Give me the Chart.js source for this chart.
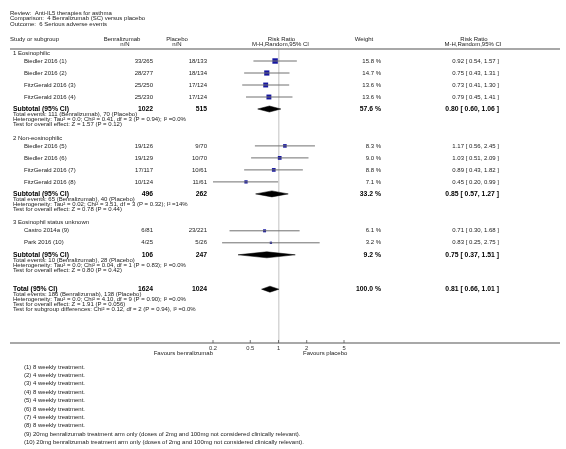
<!DOCTYPE html>
<html>
<head>
<meta charset="utf-8">
<script src="https://cdn.jsdelivr.net/npm/chart.js@4/dist/chart.umd.min.js"></script>
<style>
  html, body { margin: 0; padding: 0; background: #fff; }
  #forest { display: block; }
</style>
</head>
<body>
<canvas id="forest" width="566" height="449"></canvas>
<script>
// ---- data ----
const titleLines = [
  'Review:  Anti-IL5 therapies for asthma',
  'Comparison:  4 Benralizumab (SC) versus placebo',
  'Outcome:  6 Serious adverse events'
];
const groups = ['1 Eosinophilic', '2 Non-eosinophilic', '3 Eosinophil status unknown'];
const studies = [
  'Biedler 2016 (1)', 'Biedler 2016 (2)', 'FitzGerald 2016 (3)', 'FitzGerald 2016 (4)',
  'Biedler 2016 (5)', 'Biedler 2016 (6)', 'FitzGerald 2016 (7)', 'FitzGerald 2016 (8)',
  'Castro 2014a (9)', 'Park 2016 (10)'
];
const studyGroup = [0, 0, 0, 0, 1, 1, 1, 1, 2, 2];
const benraEvents = [33, 28, 25, 25, 19, 19, 17, 10, 6, 4];
const benraTotal = [265, 277, 250, 230, 126, 129, 117, 124, 81, 25];
const placeboEvents = [18, 18, 17, 17, 9, 10, 10, 11, 23, 5];
const placeboTotal = [133, 134, 124, 124, 70, 70, 61, 61, 221, 26];
const riskRatio = [0.92, 0.75, 0.73, 0.79, 1.17, 1.03, 0.89, 0.45, 0.71, 0.83];
const ciLow = [0.54, 0.43, 0.41, 0.45, 0.56, 0.51, 0.43, 0.20, 0.30, 0.25];
const ciHigh = [1.57, 1.31, 1.30, 1.41, 2.45, 2.09, 1.82, 0.99, 1.68, 2.75];
const weights = [15.8, 14.7, 13.6, 13.6, 8.3, 9.0, 8.8, 7.1, 6.1, 3.2];

const subRR = [0.80, 0.85, 0.75];
const subLow = [0.60, 0.57, 0.37];
const subHigh = [1.06, 1.27, 1.51];
const subWeight = [57.6, 33.2, 9.2];
const subBenraN = [1022, 496, 106];
const subPlaceboN = [515, 262, 247];
const subStats = [
  ['Total events: 111 (Benralizumab), 70 (Placebo)',
   'Heterogeneity: Tau\u00B2 = 0.0; Chi\u00B2 = 0.41, df = 3 (P = 0.94); I\u00B2 =0.0%',
   'Test for overall effect: Z = 1.57 (P = 0.12)'],
  ['Total events: 65 (Benralizumab), 40 (Placebo)',
   'Heterogeneity: Tau\u00B2 = 0.02; Chi\u00B2 = 3.51, df = 3 (P = 0.32); I\u00B2 =14%',
   'Test for overall effect: Z = 0.78 (P = 0.44)'],
  ['Total events: 10 (Benralizumab), 28 (Placebo)',
   'Heterogeneity: Tau\u00B2 = 0.0; Chi\u00B2 = 0.04, df = 1 (P = 0.83); I\u00B2 =0.0%',
   'Test for overall effect: Z = 0.80 (P = 0.42)']
];

const totalRR = 0.81, totalLow = 0.66, totalHigh = 1.01, totalWeight = 100.0;
const totalBenraN = 1624, totalPlaceboN = 1024;
const totalStats = [
  'Total events: 186 (Benralizumab), 138 (Placebo)',
  'Heterogeneity: Tau\u00B2 = 0.0; Chi\u00B2 = 4.10, df = 9 (P = 0.90); I\u00B2 =0.0%',
  'Test for overall effect: Z = 1.91 (P = 0.056)',
  'Test for subgroup differences: Chi\u00B2 = 0.12, df = 2 (P = 0.94), I\u00B2 =0.0%'
];

const xTicks = [0.2, 0.5, 1, 2, 5];
const favours = ['Favours benralizumab', 'Favours placebo'];
const footnotes = [
  '(1) 8 weekly treatment.',
  '(2) 4 weekly treatment.',
  '(3) 4 weekly treatment.',
  '(4) 8 weekly treatment.',
  '(5) 4 weekly treatment.',
  '(6) 8 weekly treatment.',
  '(7) 4 weekly treatment.',
  '(8) 8 weekly treatment.',
  '(9) 20mg benralizumab treatment arm only (doses of 2mg and 100mg not considered clinically relevant).',
  '(10) 20mg benralizumab treatment arm only (doses of 2mg and 100mg not considered clinically relevant).'
];

// ---- layout ----
const FONT = '"Liberation Sans", Arial, Helvetica, sans-serif';
const COL = { label: 10, group: 13, study: 24, benra: 153, placebo: 207, weight: 381, rr: 499 };
const SIZE = { title: 6, head: 6, body: 6, stat: 6, bold: 6.8, note: 6 };
const ROW_GAP = { first: 4, groupToStudy: 8, study: 12, studyToSub: 12, subToStat: 5.4, stat: 5, statToGroup: 13.5, statToTotal: 19 };
const DIAMOND_H = 3;

// rows in "line units" down the plot, top of plot = 0
const rows = [];
let cursor = ROW_GAP.first;
groups.forEach((name, g) => {
  rows.push({ kind: 'group', g, y: cursor });
  cursor += ROW_GAP.groupToStudy;
  const members = studies.map((s, i) => i).filter((i) => studyGroup[i] === g);
  members.forEach((i, k) => {
    if (k > 0) cursor += ROW_GAP.study;
    rows.push({ kind: 'study', i, y: cursor });
  });
  cursor += ROW_GAP.studyToSub;
  rows.push({ kind: 'sub', g, y: cursor });
  cursor += ROW_GAP.subToStat;
  subStats[g].forEach((line, k) => {
    if (k > 0) cursor += ROW_GAP.stat;
    rows.push({ kind: 'stat', text: line, y: cursor });
  });
  cursor += g < groups.length - 1 ? ROW_GAP.statToGroup : ROW_GAP.statToTotal;
});
rows.push({ kind: 'total', y: cursor });
cursor += ROW_GAP.subToStat;
totalStats.forEach((line, k) => {
  if (k > 0) cursor += ROW_GAP.stat;
  rows.push({ kind: 'stat', text: line, y: cursor });
});

// ---- datasets ----
const datasets = [];
const studyRows = rows.filter((r) => r.kind === 'study');

studyRows.forEach((r) => {
  datasets.push({
    type: 'scatter',
    showLine: true,
    data: [{ x: ciLow[r.i], y: r.y }, { x: ciHigh[r.i], y: r.y }],
    borderColor: '#707070',
    borderWidth: 1,
    pointRadius: 0
  });
});

datasets.push({
  type: 'scatter',
  data: studyRows.map((r) => ({ x: riskRatio[r.i], y: r.y })),
  pointStyle: 'rect',
  pointRadius: studyRows.map((r) => (1.5 + weights[r.i] * 0.25) / Math.SQRT2),
  backgroundColor: '#1616a0',
  borderWidth: 0
});

function diamond(est, lo, hi, y) {
  return {
    type: 'scatter',
    showLine: true,
    fill: 'shape',
    data: [
      { x: lo, y: y }, { x: est, y: y - DIAMOND_H },
      { x: hi, y: y }, { x: est, y: y + DIAMOND_H }, { x: lo, y: y }
    ],
    backgroundColor: '#000',
    borderColor: '#000',
    borderWidth: 0.5,
    pointRadius: 0
  };
}
rows.filter((r) => r.kind === 'sub').forEach((r) => {
  datasets.push(diamond(subRR[r.g], subLow[r.g], subHigh[r.g], r.y));
});
rows.filter((r) => r.kind === 'total').forEach((r) => {
  datasets.push(diamond(totalRR, totalLow, totalHigh, r.y));
});

// ---- text ----
function txt(ctx, s, x, y, size, align, bold, color) {
  ctx.font = (bold ? 'bold ' : '') + size + 'px ' + FONT;
  ctx.textAlign = align || 'left';
  ctx.textBaseline = 'middle';
  ctx.fillStyle = color || '#1a1a1a';
  ctx.fillText(s, x, y);
}

const rr = (e, l, h) => e.toFixed(2) + ' [ ' + l.toFixed(2) + ', ' + h.toFixed(2) + ' ]';

const forestText = {
  id: 'forestText',
  afterDraw(chart) {
    const ctx = chart.ctx;
    const xs = chart.scales.x;
    const ys = chart.scales.y;
    const area = chart.chartArea;
    const x1 = xs.getPixelForValue(1);
    ctx.save();

    titleLines.forEach((t, k) => txt(ctx, t, COL.label, 13 + k * 5.6, SIZE.title));

    txt(ctx, 'Study or subgroup', COL.label, 39, SIZE.head);
    txt(ctx, 'Benralizumab', 122, 39, SIZE.head, 'center');
    txt(ctx, 'n/N', 125, 44, SIZE.head, 'center');
    txt(ctx, 'Placebo', 177, 39, SIZE.head, 'center');
    txt(ctx, 'n/N', 177, 44, SIZE.head, 'center');
    txt(ctx, 'Risk Ratio', x1 + 3, 39, SIZE.head, 'center');
    txt(ctx, 'M-H,Random,95% CI', x1 + 2, 44, SIZE.head, 'center');
    txt(ctx, 'Weight', 364, 39, SIZE.head, 'center');
    txt(ctx, 'Risk Ratio', 474, 39, SIZE.head, 'center');
    txt(ctx, 'M-H,Random,95% CI', 473, 44, SIZE.head, 'center');

    // header rule and axis rule
    ctx.strokeStyle = '#8c8c8c';
    ctx.lineWidth = 1.5;
    ctx.beginPath();
    ctx.moveTo(10, area.top); ctx.lineTo(560, area.top);
    ctx.moveTo(10, area.bottom); ctx.lineTo(560, area.bottom);
    ctx.stroke();

    // tick marks rising from the axis
    ctx.strokeStyle = '#555';
    ctx.lineWidth = 0.8;
    ctx.beginPath();
    xTicks.forEach((v) => {
      const px = xs.getPixelForValue(v);
      ctx.moveTo(px, area.bottom - 3); ctx.lineTo(px, area.bottom);
    });
    ctx.stroke();

    rows.forEach((r) => {
      const y = ys.getPixelForValue(r.y);
      if (r.kind === 'group') {
        txt(ctx, groups[r.g], COL.group, y, SIZE.body);
      } else if (r.kind === 'study') {
        const i = r.i;
        txt(ctx, studies[i], COL.study, y, SIZE.body);
        txt(ctx, benraEvents[i] + '/' + benraTotal[i], COL.benra, y, SIZE.body, 'right');
        txt(ctx, placeboEvents[i] + '/' + placeboTotal[i], COL.placebo, y, SIZE.body, 'right');
        txt(ctx, weights[i].toFixed(1) + ' %', COL.weight, y, SIZE.body, 'right');
        txt(ctx, rr(riskRatio[i], ciLow[i], ciHigh[i]), COL.rr, y, SIZE.body, 'right');
      } else if (r.kind === 'sub') {
        const g = r.g;
        txt(ctx, 'Subtotal (95% CI)', COL.group, y, SIZE.bold, 'left', true, '#000');
        txt(ctx, String(subBenraN[g]), COL.benra, y, SIZE.bold, 'right', true, '#000');
        txt(ctx, String(subPlaceboN[g]), COL.placebo, y, SIZE.bold, 'right', true, '#000');
        txt(ctx, subWeight[g].toFixed(1) + ' %', COL.weight, y, SIZE.bold, 'right', true, '#000');
        txt(ctx, rr(subRR[g], subLow[g], subHigh[g]), COL.rr, y, SIZE.bold, 'right', true, '#000');
      } else if (r.kind === 'total') {
        txt(ctx, 'Total (95% CI)', COL.group, y, SIZE.bold, 'left', true, '#000');
        txt(ctx, String(totalBenraN), COL.benra, y, SIZE.bold, 'right', true, '#000');
        txt(ctx, String(totalPlaceboN), COL.placebo, y, SIZE.bold, 'right', true, '#000');
        txt(ctx, totalWeight.toFixed(1) + ' %', COL.weight, y, SIZE.bold, 'right', true, '#000');
        txt(ctx, rr(totalRR, totalLow, totalHigh), COL.rr, y, SIZE.bold, 'right', true, '#000');
      } else {
        txt(ctx, r.text, COL.group, y, SIZE.stat);
      }
    });

    txt(ctx, favours[0], xs.getPixelForValue(0.2), area.bottom + 10, SIZE.body, 'right');
    txt(ctx, favours[1], 303, area.bottom + 10, SIZE.body, 'left');

    footnotes.forEach((f, k) => txt(ctx, f, COL.study, 367 + k * 8.4, SIZE.note));
    ctx.restore();
  }
};

new Chart(document.getElementById('forest'), {
  type: 'scatter',
  data: { datasets },
  options: {
    responsive: false,
    animation: false,
    events: [],
    layout: { padding: { left: 213, right: 222, top: 49, bottom: 94 } },
    plugins: { legend: { display: false }, tooltip: { enabled: false } },
    scales: {
      x: {
        type: 'logarithmic',
        min: 0.2,
        max: 5,
        border: { display: false },
        grid: {
          drawTicks: false,
          lineWidth: 1.5,
          color: (c) => (c.tick && c.tick.value === 1 ? '#d6d6d6' : 'rgba(0,0,0,0)')
        },
        afterBuildTicks: (s) => { s.ticks = xTicks.map((v) => ({ value: v })); },
        afterFit: (s) => { s.height = 12; },
        ticks: {
          autoSkip: false,
          maxRotation: 0,
          padding: 2,
          color: '#333',
          font: { size: 5.8, family: FONT },
          callback: (v) => String(v)
        }
      },
      y: {
        type: 'linear',
        reverse: true,
        min: 0,
        max: 294,
        display: false
      }
    }
  },
  plugins: [forestText]
});
</script>
</body>
</html>
